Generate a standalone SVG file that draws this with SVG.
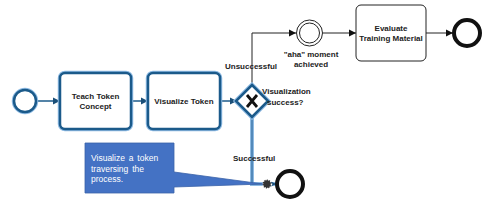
<svg xmlns="http://www.w3.org/2000/svg" width="498" height="216" viewBox="0 0 498 216">
<style>
text{font-family:"Liberation Sans",Arial,sans-serif;font-size:8px;font-weight:bold;fill:#222}
.hl{fill:#fff;stroke:#1b5a8a;stroke-width:2.5}
.hlo{fill:none;stroke:#8fbbe3;stroke-width:4.5}
.blk{fill:none;stroke:#222;stroke-width:1}
.c{text-anchor:middle}
.call{fill:#fff;font-weight:normal;font-size:8.5px;word-spacing:1.5px}
</style>
<defs>
<marker id="ab" markerWidth="8" markerHeight="8" refX="7" refY="4" orient="auto" markerUnits="userSpaceOnUse">
<path d="M0,0.5 L7,4 L0,7.5 Z" fill="#1b4f78"/>
</marker>
<marker id="ak" markerWidth="8" markerHeight="8" refX="7" refY="4" orient="auto" markerUnits="userSpaceOnUse">
<path d="M0,0.5 L7,4 L0,7.5 Z" fill="#111"/>
</marker>
</defs>
<g id="connectors">
<path d="M36,101 H60" fill="none" stroke="#1b5a8a" stroke-width="1.5" marker-end="url(#ab)"/>
<path d="M131,101 H148" fill="none" stroke="#1b5a8a" stroke-width="1.5" marker-end="url(#ab)"/>
<path d="M220,101 H237" fill="none" stroke="#1b5a8a" stroke-width="1.5" marker-end="url(#ab)"/>
<path d="M252,85 V33 H296" class="blk" marker-end="url(#ak)"/>
<path d="M323,33 H356" class="blk" marker-end="url(#ak)"/>
<path d="M426,33 H453" class="blk" marker-end="url(#ak)"/>
<path d="M252,117 V184 H276" fill="none" stroke="#8fbbe3" stroke-width="4"/>
<path d="M252,117 V184 H276" fill="none" stroke="#2d6aa0" stroke-width="1.2" marker-end="url(#ab)"/>
</g>
<g id="start">
<circle cx="25" cy="101" r="11" class="hlo"/>
<circle cx="25" cy="101" r="11" class="hl"/>
</g>
<g id="teach">
<rect x="60" y="73" width="71" height="56" rx="5" class="hlo"/>
<rect x="60" y="73" width="71" height="56" rx="5" class="hl"/>
<text class="c" x="95.5" y="99">Teach Token</text>
<text class="c" x="95.5" y="109">Concept</text>
</g>
<g id="visualize">
<rect x="148" y="73" width="72" height="56" rx="5" class="hlo"/>
<rect x="148" y="73" width="72" height="56" rx="5" class="hl"/>
<text class="c" x="184" y="104">Visualize Token</text>
</g>
<g id="gateway">
<path d="M252,85 L268,101 L252,117 L236,101 Z" class="hlo"/>
<path d="M252,85 L268,101 L252,117 L236,101 Z" class="hl"/>
<path d="M247,95 L257,107 M257,95 L247,107" stroke="#111" stroke-width="2.8"/>
<text x="262" y="94">Visualization</text>
<text x="267" y="105">success?</text>
</g>
<text x="225" y="69">Unsuccessful</text>
<text x="233" y="161">Successful</text>
<g id="aha">
<circle cx="309.5" cy="33" r="13" class="blk" stroke-width="1.2" fill="#fff"/>
<circle cx="309.5" cy="33" r="10" class="blk" stroke-width="1.2"/>
<text class="c" x="311" y="57">"aha" moment</text>
<text class="c" x="311" y="67">achieved</text>
</g>
<g id="evaluate">
<rect x="356" y="5" width="70" height="56" rx="5" fill="#fff" stroke="#222" stroke-width="1"/>
<text class="c" x="391" y="31">Evaluate</text>
<text class="c" x="391" y="41">Training Material</text>
</g>
<g id="end1">
<circle cx="467" cy="33" r="13" fill="#fff" stroke="#111" stroke-width="4"/>
</g>
<g id="end2">
<circle cx="290" cy="184" r="13" fill="#fff" stroke="#111" stroke-width="4"/>
</g>
<g id="token">
<circle cx="267" cy="184" r="4.5" fill="#333" stroke="#fff" stroke-width="1.5" stroke-dasharray="1.5 1.2"/>
</g>
<g id="callout">
<path d="M85,143 H174 V172 L263,184 L174,187 V193 H85 Z" fill="#4472c4" stroke="#3a62a8" stroke-width="0.8"/>
<text class="call" x="91" y="161">Visualize a token</text>
<text class="call" x="91" y="172">traversing the</text>
<text class="call" x="91" y="182">process.</text>
</g>
</svg>
